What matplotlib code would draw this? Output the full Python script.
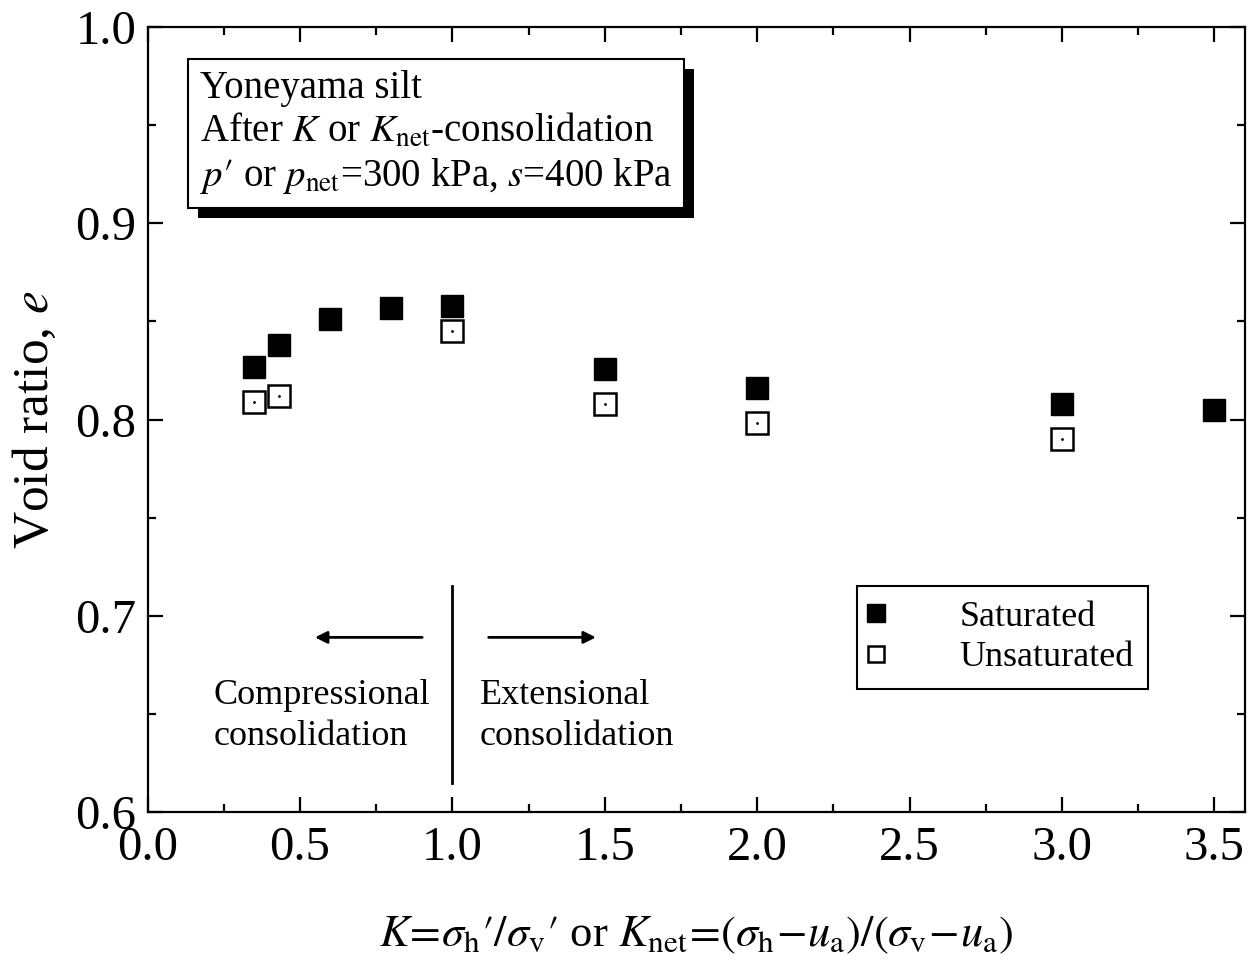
import matplotlib.pyplot as plt
from matplotlib import patheffects as pe
from matplotlib.ticker import MultipleLocator

plt.rcParams['font.family'] = ['Liberation Serif', 'DejaVu Serif']
plt.rcParams['mathtext.fontset'] = 'stix'

# data
k_sat = [0.35, 0.43, 0.6, 0.8, 1.0, 1.5, 2.0, 3.0, 3.5]
e_sat = [0.827, 0.838, 0.851, 0.857, 0.858, 0.826, 0.816, 0.808, 0.805]
k_unsat = [0.35, 0.43, 1.0, 1.5, 2.0, 3.0]
e_unsat = [0.809, 0.812, 0.845, 0.808, 0.798, 0.790]

fig = plt.figure(figsize=(12.51, 9.65), dpi=100)
ax = fig.add_axes([0.118, 0.1585, 0.877, 0.8135])

ax.plot(k_sat, e_sat, 's', color='k', markersize=16.5, label='Saturated')
ax.plot(k_unsat, e_unsat, 's', mfc='white', mec='k', mew=1.8,
        markersize=15.5, label='Unsaturated')
# tiny centre dot of the open symbols
ax.plot(k_unsat, e_unsat, '.', color='k', markersize=2)

ax.set_xlim(0, 3.6)
ax.set_ylim(0.6, 1.0)
ax.xaxis.set_major_locator(MultipleLocator(0.5))
ax.xaxis.set_minor_locator(MultipleLocator(0.25))
ax.yaxis.set_major_locator(MultipleLocator(0.1))
ax.yaxis.set_minor_locator(MultipleLocator(0.05))
ax.xaxis.set_major_formatter(plt.FuncFormatter(lambda v, p: f'{v:.1f}'))
ax.yaxis.set_major_formatter(plt.FuncFormatter(lambda v, p: f'{v:.1f}'))
ax.tick_params(which='both', direction='in', top=True, right=True,
               width=1.6, labelsize=35)
ax.tick_params(which='major', length=11)
ax.tick_params(which='minor', length=5.5)
ax.tick_params(axis='x', which='major', pad=10)
ax.tick_params(axis='y', which='major', pad=8)
for s in ax.spines.values():
    s.set_linewidth(1.6)

ax.set_ylabel('Void ratio, $e$', fontsize=37, labelpad=12)
ax.set_xlabel(r'$K\!=\!\sigma_\mathrm{h}\prime/\sigma_\mathrm{v}\prime$ or '
              r'$K_\mathrm{net}\!=\!(\sigma_\mathrm{h}\!-\!u_\mathrm{a})/(\sigma_\mathrm{v}\!-\!u_\mathrm{a})$',
              fontsize=32, labelpad=32)

# info box with shadow (data coordinates)
t = ax.text(0.171, 0.946,
            'Yoneyama silt\nAfter $K$ or $K_\\mathrm{net}$-consolidation\n'
            "$p\\prime$ or $p_\\mathrm{net}$=300 kPa, $s$=400 kPa",
            fontsize=28, va='center', ha='left', linespacing=1.2,
            bbox=dict(boxstyle='square,pad=0.3', fc='white', ec='k', lw=1.5))
t.get_bbox_patch().set_path_effects([
    pe.SimplePatchShadow(offset=(7.5, -7), shadow_rgbFace='k', alpha=1.0),
    pe.Normal()])

# divider and arrows
ax.plot([1.0, 1.0], [0.615, 0.715], color='k', lw=2)
ax.annotate('', xy=(0.54, 0.689), xytext=(0.91, 0.689),
            arrowprops=dict(arrowstyle='-|>', color='k', lw=2, mutation_scale=18))
ax.annotate('', xy=(1.48, 0.689), xytext=(1.11, 0.689),
            arrowprops=dict(arrowstyle='-|>', color='k', lw=2, mutation_scale=18))
ax.text(0.215, 0.649, 'Compressional\nconsolidation', fontsize=26,
        va='center', ha='left', linespacing=1.35)
ax.text(1.09, 0.649, 'Extensional\nconsolidation', fontsize=26,
        va='center', ha='left', linespacing=1.35)

leg = ax.legend(loc='lower right', bbox_to_anchor=(0.912, 0.157), fontsize=26,
                frameon=True, fancybox=False, edgecolor='k', framealpha=1,
                handlelength=0.3, handletextpad=2.15, borderpad=0.4,
                borderaxespad=0, labelspacing=0.2, markerscale=0.75)
leg.get_frame().set_linewidth(1.5)

fig.savefig('out.png', dpi=100)
